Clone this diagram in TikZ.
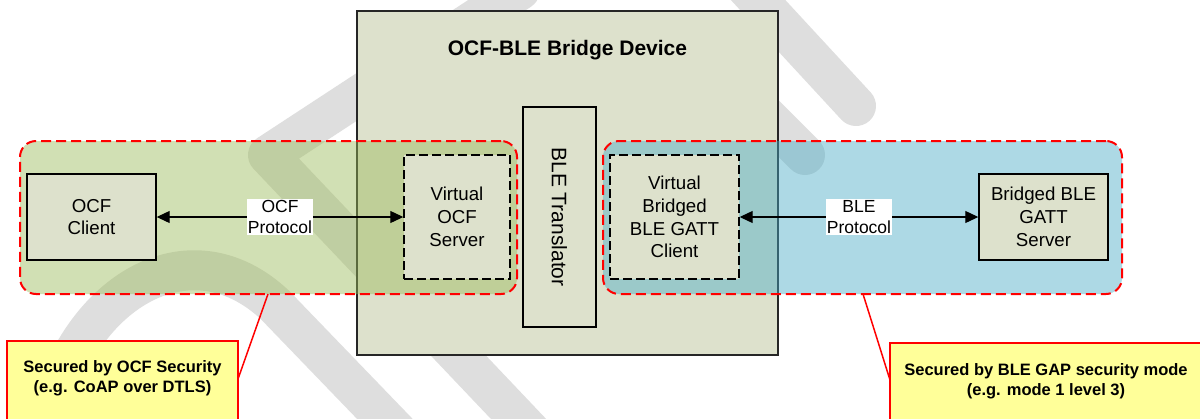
\documentclass[tikz,border=0pt]{standalone}
\usepackage{fontspec}
\setmainfont{Liberation Sans}
\usetikzlibrary{arrows.meta}

\definecolor{devfill}{RGB}{221,225,204}
\definecolor{zoneolive}{RGB}{155,187,89}
\definecolor{zoneaqua}{RGB}{75,172,198}
\definecolor{notefill}{RGB}{255,255,153}
\definecolor{wmgrey}{RGB}{222,222,222}

\tikzset{
  bodyfont/.style={font=\fontsize{18.7}{22.7}\selectfont},
  devicebox/.style={draw=black!85, line width=1.2pt, fill=devfill, inner sep=0pt},
  plainbox/.style={draw=black, line width=1.4pt, fill=devfill, align=center,
                   inner sep=0pt, bodyfont},
  virtbox/.style={plainbox, dash pattern=on 9pt off 4pt},
  zone/.style={draw=red, line width=2pt, dash pattern=on 10pt off 5pt,
               rounded corners=16pt, inner sep=0pt, fill opacity=0.45},
  protolabel/.style={fill=white, inner xsep=1pt, inner ysep=1.5pt, align=center,
                     font=\fontsize{17.5}{20.5}\selectfont},
  biarrow/.style={{Triangle[length=13pt,width=12pt]}-{Triangle[length=13pt,width=12pt]},
                  line width=1.1pt},
  notebox/.style={draw=red, line width=1.6pt, fill=notefill, inner sep=0pt},
  notetext/.style={align=center, font=\bfseries\fontsize{16.5}{20}\selectfont},
  callout/.style={draw=red, line width=1.5pt},
  watermark/.style={draw=wmgrey, line width=40pt, line cap=round, line join=round}
}

\begin{document}
\begin{tikzpicture}[x=1pt,y=-1pt]
  \useasboundingbox (0,0) rectangle (1200,418);
  \fill[white] (0,0) rectangle (1200,418);

  % background watermark strokes
  \begin{scope}
    \clip (0,0) rectangle (1200,418);
    \draw[watermark] (520,-10) -- (268,155) -- (548,450);
    \draw[watermark] (45,430) .. controls (75,290) and (190,225) .. (275,305) -- (410,445);
    \draw[watermark] (735,-25) -- (856,106);
    \draw[watermark] (720,70) -- (805,155);
  \end{scope}

  % bridge device
  \node[devicebox, minimum width=421pt, minimum height=344pt] (device) at (567.5,183) {};
  \node[font=\bfseries\fontsize{21}{25}\selectfont] (title) at (567.5,50) {OCF-BLE Bridge Device};
  \node[plainbox, rotate=-90, minimum width=220pt, minimum height=73pt,
        font=\fontsize{21}{25}\selectfont] (trans) at (559.5,217) {BLE Translator};

  % security zones
  \node[zone, fill=zoneolive, minimum width=497pt, minimum height=153pt] (ocfzone) at (268.5,217.5) {};
  \node[zone, fill=zoneaqua, minimum width=519pt, minimum height=153pt] (blezone) at (862.5,217.5) {};

  % endpoints
  \node[plainbox, minimum width=129pt, minimum height=86pt] (client) at (91.5,217) {OCF\\Client};
  \node[virtbox, minimum width=106pt, minimum height=124pt] (vserver) at (457,217) {Virtual\\OCF\\Server};
  \node[virtbox, minimum width=129pt, minimum height=124pt] (vclient) at (674.5,217) {Virtual\\Bridged\\BLE GATT\\Client};
  \node[plainbox, minimum width=129pt, minimum height=86pt] (gatt) at (1043.5,217) {Bridged BLE\\GATT\\Server};

  % protocol links
  \draw[biarrow] (client.east) -- (vserver.west)
    node[protolabel, midway] (ocfproto) {OCF\\Protocol};
  \draw[biarrow] (vclient.east) -- (gatt.west)
    node[protolabel, midway] (bleproto) {BLE\\Protocol};

  % security notes
  \coordinate (ocfpin) at (268,294);
  \coordinate (ocftip) at (238,379);
  \coordinate (blepin) at (863,294);
  \coordinate (bletip) at (890,380);
  \draw[callout] (ocfpin) -- (ocftip);
  \draw[callout] (blepin) -- (bletip);

  \node[notebox, minimum width=231pt, minimum height=99pt] (ocfnote) at (122.5,390.5) {};
  \node[notetext] (ocfnotetext) at (122.5,378) {Secured by OCF Security\\(e.g. CoAP over DTLS)};
  \node[notebox, minimum width=325pt, minimum height=97pt] (blenote) at (1052.5,391.5) {};
  \node[notetext] (blenotetext) at (1046,381) {Secured by BLE GAP security mode\\(e.g. mode 1 level 3)};
\end{tikzpicture}
\end{document}
